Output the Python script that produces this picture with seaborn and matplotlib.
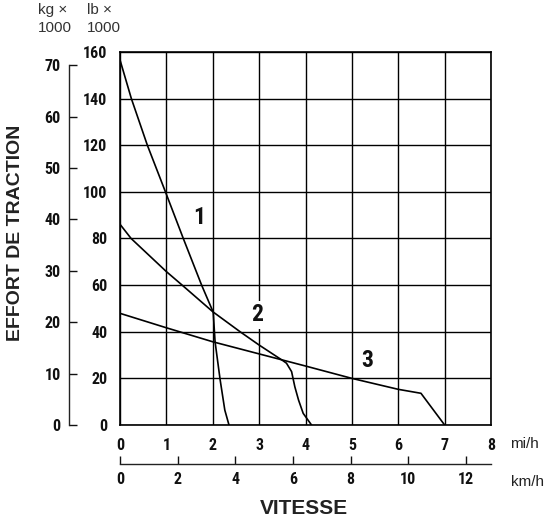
import matplotlib
matplotlib.use("Agg")
import matplotlib.pyplot as plt
from matplotlib.font_manager import FontProperties
import numpy as np
import pandas as pd
import seaborn as sns

# Rimpull curves per gear: speed (mi/h) and tractive effort (lb x 1000)
gear1_speed = [0.0, 0.245, 0.59, 0.98, 1.365, 1.76, 2.01, 2.05, 2.16, 2.26, 2.35]
gear1_pull = [156.6, 140.0, 120.0, 100.0, 80.0, 60.0, 48.4, 35.7, 19.3, 6.4, 0.0]

gear2_speed = [0.0, 0.24, 1.0, 1.34, 2.0, 2.59, 3.0, 3.52, 3.59, 3.70, 3.77, 3.85, 3.95, 4.13]
gear2_pull = [86.1, 80.0, 65.8, 60.0, 48.6, 40.0, 34.3, 27.5, 26.5, 22.9, 16.4, 10.7, 5.0, 0.0]

gear3_speed = [0.0, 1.0, 2.0, 3.0, 4.0, 5.0, 6.0, 6.49, 6.76, 7.0]
gear3_pull = [47.9, 41.7, 35.7, 30.5, 25.3, 20.0, 15.3, 13.6, 6.4, 0.0]

gear_labels = ["1", "2", "3"]
label_speed = [1.70, 2.95, 5.34]
label_pull = [88.8, 47.2, 27.6]

lb_ticks = [0, 20, 40, 60, 80, 100, 120, 140, 160]
kg_ticks = [0, 10, 20, 30, 40, 50, 60, 70]
mph_ticks = [0, 1, 2, 3, 4, 5, 6, 7, 8]
kmh_ticks = [0, 2, 4, 6, 8, 10, 12]

LB_PER_KG = 2.20462
KMH_PER_MPH = 1.609344

df = pd.concat([
    pd.DataFrame({"speed": s, "pull": p, "gear": g})
    for s, p, g in zip([gear1_speed, gear2_speed, gear3_speed],
                       [gear1_pull, gear2_pull, gear3_pull], gear_labels)
])

sns.set_theme(style="white")
plt.rcParams["font.family"] = ["Liberation Sans", "DejaVu Sans"]

NARROW = ["Roboto Condensed", "Archivo Narrow", "Liberation Sans Narrow",
          "Asap Condensed", "DejaVu Sans"]
narrow_bold = FontProperties(family=NARROW, weight="bold", size=11.5)
label_font = FontProperties(family=NARROW, weight="bold", size=17)

W, H = 546, 523
fig = plt.figure(figsize=(W / 100, H / 100), dpi=100)
fig.patch.set_facecolor("white")
ax = fig.add_axes([120 / W, 98 / H, 371 / W, 373 / H])

sns.lineplot(data=df, x="speed", y="pull", hue="gear", palette=["black"] * 3,
             sort=False, estimator=None, legend=False, linewidth=1.2, ax=ax,
             zorder=3)

ax.set_xlim(0, 8)
ax.set_ylim(0, 160)
ax.set_xticks(mph_ticks)
ax.set_yticks(lb_ticks)
ax.set_xticklabels([str(t) for t in mph_ticks], fontproperties=narrow_bold)
ax.set_yticklabels([str(t) for t in lb_ticks], fontproperties=narrow_bold)
ax.tick_params(axis="both", length=0, colors="#111111")
ax.tick_params(axis="x", pad=9)
ax.tick_params(axis="y", pad=9)
ax.grid(True, color="black", linewidth=1.0)
ax.set_axisbelow(True)
for sp in ax.spines.values():
    sp.set_visible(True)
    sp.set_color("black")
    sp.set_linewidth(1.2)
ax.set_xlabel("")
ax.set_ylabel("")

for txt, xs, ys in zip(gear_labels, label_speed, label_pull):
    ax.text(xs, ys, txt, fontproperties=label_font, ha="center", va="center",
            color="#111111", zorder=4,
            bbox=dict(facecolor="white", edgecolor="none", pad=1.5))

# Secondary tractive effort scale in kg x 1000
ax_kg = ax.twinx()
ax_kg.set_ylim(0, 160 / LB_PER_KG)
ax_kg.yaxis.set_ticks_position("left")
ax_kg.yaxis.set_label_position("left")
for name, sp in ax_kg.spines.items():
    sp.set_visible(name == "left")
ax_kg.spines["left"].set_position(("axes", -51 / 371))
ax_kg.spines["left"].set_bounds(0, 70)
ax_kg.spines["left"].set_color("#222222")
ax_kg.spines["left"].set_linewidth(1.0)
ax_kg.set_yticks(kg_ticks)
ax_kg.set_yticklabels([str(t) for t in kg_ticks], fontproperties=narrow_bold)
ax_kg.tick_params(axis="y", direction="in", length=6, width=1.0, pad=6,
                  colors="#111111")
ax_kg.grid(False)

# Secondary speed scale in km/h
ax_km = ax.twiny()
ax_km.set_xlim(0, 8 * KMH_PER_MPH)
ax_km.xaxis.set_ticks_position("bottom")
ax_km.xaxis.set_label_position("bottom")
for name, sp in ax_km.spines.items():
    sp.set_visible(name == "bottom")
ax_km.spines["bottom"].set_position(("axes", -39 / 373))
ax_km.spines["bottom"].set_bounds(0, 8 * KMH_PER_MPH)
ax_km.spines["bottom"].set_color("#222222")
ax_km.spines["bottom"].set_linewidth(1.0)
ax_km.set_xticks(kmh_ticks)
ax_km.set_xticklabels([str(t) for t in kmh_ticks], fontproperties=narrow_bold)
ax_km.tick_params(axis="x", direction="in", length=6, width=1.0, pad=6,
                  colors="#111111")
ax_km.grid(False)

# Units and axis titles
fig.text(510 / W, 1 - 444 / H, "mi/h", ha="left", va="center", fontsize=11,
         color="#222222")
fig.text(511 / W, 1 - 482 / H, "km/h", ha="left", va="center", fontsize=11,
         color="#222222")
fig.text(38 / W, 1 - 3 / H, "kg \u00d7\n1000", ha="left", va="top", fontsize=11,
         color="#333333", linespacing=1.35)
fig.text(87 / W, 1 - 3 / H, "lb \u00d7\n1000", ha="left", va="top", fontsize=11,
         color="#333333", linespacing=1.35)
fig.text(16 / W, 1 - 233 / H, "EFFORT DE TRACTION", rotation=90, ha="center",
         va="center", fontsize=14, fontweight="bold", color="#222222")
fig.text(304 / W, 1 - 508 / H, "VITESSE", ha="center", va="center",
         fontsize=15, fontweight="bold", color="#222222")

fig.savefig("out.png", dpi=100, facecolor="white")
